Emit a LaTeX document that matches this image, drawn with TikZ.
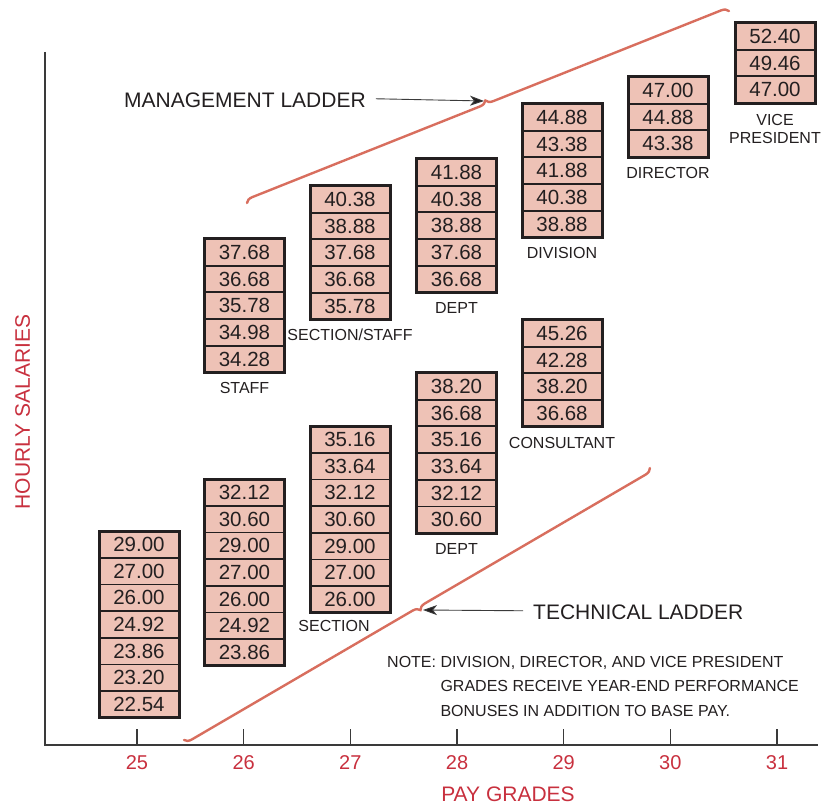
\documentclass[tikz,border=0pt]{standalone}
\usepackage{fontspec}
\setmainfont{Liberation Sans}
\usetikzlibrary{fit,decorations.pathreplacing,arrows.meta}
\definecolor{cellpink}{HTML}{EEC2B6}
\definecolor{ink}{HTML}{231F20}
\definecolor{axred}{HTML}{C8303E}
\definecolor{ladder}{HTML}{D86E5E}
\definecolor{axgray}{HTML}{3A3A3A}
\newcommand\salstack[5]{%
  \foreach \v [count=\i] in {#5} {\node[cell] (#1-\i) at (#2,{#3+(\i-0.5)*26.7}) {\v};}
  \node[frame, fit=(#1-1)(#1-#4)] (#1) {};
}
\begin{document}
\begin{tikzpicture}[x=1pt,y=-1pt,
  cell/.style={rectangle, minimum width=80pt, minimum height=26.7pt, inner sep=0pt, outer sep=0pt,
    fill=cellpink, draw=ink, line width=1.8pt, text=ink, font=\fontsize{20.5}{20.5}\selectfont},
  frame/.style={rectangle, draw=ink, line width=3pt, inner sep=0pt, outer sep=0pt},
  lab/.style={anchor=base, inner sep=0pt, text=ink, font=\fontsize{16}{18}\selectfont, align=center},
  gradelab/.style={anchor=base, inner sep=0pt, text=axred, font=\fontsize{20}{20}\selectfont},
  bigred/.style={inner sep=0pt, text=axred, font=\fontsize{21}{21}\selectfont},
  ladname/.style={anchor=base west, inner sep=0pt, text=ink, font=\fontsize{21}{21}\selectfont},
  ladbrace/.style={draw=ladder, line width=2.4pt, line cap=round, decorate, decoration={brace, amplitude=7pt}},
  arr/.style={draw=axgray, line width=0.9pt, -{Stealth[length=14pt,width=10pt,inset=4pt,fill=ink]}},
  axis/.style={draw=axgray, line width=1.4pt}]
\useasboundingbox (0,0) rectangle (823,805);
% axes
\coordinate (ytop) at (45,52);
\coordinate (orig) at (45,745);
\coordinate (xend) at (818,745);
\draw[axis] (ytop) -- (orig) -- (xend);
\foreach \g [count=\k from 0] in {25,...,31} {
  \draw[axis] ({137+106.67*\k},745) -- ++(0,-16);
  \node[gradelab] (g\g) at ({137+106.67*\k},769) {\g};
}
\node[bigred, anchor=base] (xlab) at (508,801) {PAY GRADES};
\node[bigred, anchor=base, rotate=90] (ylab) at (30,412) {HOURLY SALARIES};
% stacks
\salstack{s25}{139}{531}{7}{29.00,27.00,26.00,24.92,23.86,23.20,22.54}
\salstack{s26a}{244.5}{479}{7}{32.12,30.60,29.00,27.00,26.00,24.92,23.86}
\salstack{s26b}{244.5}{239}{5}{37.68,36.68,35.78,34.98,34.28}
\salstack{s27b}{350}{186}{5}{40.38,38.88,37.68,36.68,35.78}
\salstack{s27a}{350}{426}{7}{35.16,33.64,32.12,30.60,29.00,27.00,26.00}
\salstack{s28b}{456.5}{159}{5}{41.88,40.38,38.88,37.68,36.68}
\salstack{s28a}{456.5}{373}{6}{38.20,36.68,35.16,33.64,32.12,30.60}
\salstack{s29b}{562}{104}{5}{44.88,43.38,41.88,40.38,38.88}
\salstack{s29a}{562}{320}{4}{45.26,42.28,38.20,36.68}
\salstack{s30}{668}{77}{3}{47.00,44.88,43.38}
\salstack{s31}{775}{23}{3}{52.40,49.46,47.00}
% labels
\node[lab] (lstaff) at ([yshift=-21.5pt]s26b.south) {STAFF};
\node[lab] (lsecst) at ([yshift=-21.5pt]s27b.south) {SECTION/STAFF};
\node[lab] (lsec) at ([xshift=-16pt,yshift=-19pt]s27a.south) {SECTION};
\node[lab] (ldept1) at ([yshift=-21.5pt]s28b.south) {DEPT};
\node[lab] (ldept2) at ([yshift=-21.5pt]s28a.south) {DEPT};
\node[lab] (ldiv) at ([yshift=-21.5pt]s29b.south) {DIVISION};
\node[lab] (lcons) at ([yshift=-21.5pt]s29a.south) {CONSULTANT};
\node[lab] (ldir) at ([yshift=-21.5pt]s30.south) {DIRECTOR};
\node[lab] (lvp) at ([yshift=-40.5pt]s31.south) {VICE\\PRESIDENT};
% ladders
\coordinate (m1) at (247,203);
\coordinate (m2) at (729,11);
\coordinate (t1) at (184,740);
\coordinate (t2) at (650,468);
\draw[ladbrace] (m1) -- (m2);
\draw[ladbrace, decoration={mirror}] (t1) -- (t2);
\coordinate (mtip) at (484,101);
\coordinate (ttip) at (423,610);
\node[ladname] (mlad) at (124,108) {MANAGEMENT LADDER};
\node[ladname] (tlad) at (533,619) {TECHNICAL LADDER};
\draw[arr] ([xshift=10pt,yshift=2pt]mlad.east) -- (mtip);
\draw[arr] ([xshift=-10pt,yshift=1pt]tlad.west) -- (ttip);
% note
\node[anchor=base west, inner sep=0pt, text=ink, font=\fontsize{16}{24.5}\selectfont] (note) at (387,667)
  {\begin{tabular}[t]{@{}l@{ }l@{}}NOTE: & DIVISION, DIRECTOR, AND VICE PRESIDENT\\
   & GRADES RECEIVE YEAR-END PERFORMANCE\\ & BONUSES IN ADDITION TO BASE PAY.\end{tabular}};
\end{tikzpicture}
\end{document}
